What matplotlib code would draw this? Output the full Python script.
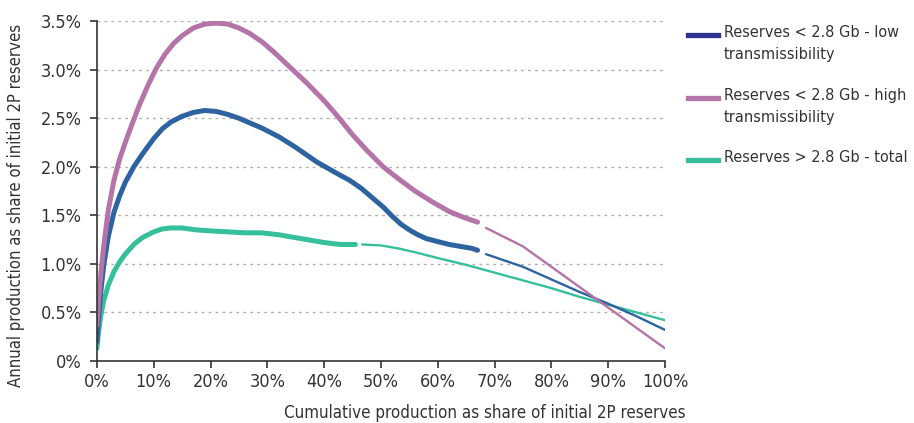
import matplotlib.pyplot as plt
import matplotlib.ticker as mticker
from matplotlib.lines import Line2D

plt.rcParams['font.family'] = ['DejaVu Sans']
plt.rcParams['font.stretch'] = 'condensed'

# low transmissibility (blue), thick part then thin part
low_x = [0, 0.3, 0.7, 1.2, 2, 3, 4, 5, 6.5, 8, 10, 11.5, 13, 15, 17, 19, 21, 23, 25, 27, 29, 32, 35, 38.7, 42, 44.5, 46.5, 48.5, 50.5, 52, 53.5, 55, 56.5, 58, 60, 62, 64, 66, 67]
low_y = [0.2, 0.45, 0.72, 0.98, 1.28, 1.53, 1.7, 1.84, 2.0, 2.13, 2.29, 2.39, 2.46, 2.52, 2.56, 2.58, 2.57, 2.54, 2.5, 2.45, 2.4, 2.31, 2.2, 2.05, 1.94, 1.86, 1.78, 1.68, 1.58, 1.49, 1.41, 1.35, 1.3, 1.26, 1.23, 1.2, 1.18, 1.16, 1.14]
low_x2 = [68.5, 75, 80, 85, 90, 95, 100]
low_y2 = [1.1, 0.97, 0.84, 0.71, 0.59, 0.46, 0.32]

# high transmissibility (pink)
high_x = [0, 0.3, 0.7, 1.2, 2, 3, 4, 5, 6, 7.5, 9, 10.5, 12, 13.5, 15, 17, 19, 21, 23, 25, 27, 29, 31, 33, 35, 37, 38.5, 40, 41.5, 42.8, 45, 47.5, 50.4, 53, 56, 59, 62, 64.5, 67]
high_y = [0.37, 0.62, 0.9, 1.18, 1.55, 1.86, 2.08, 2.25, 2.41, 2.64, 2.84, 3.02, 3.16, 3.27, 3.35, 3.43, 3.47, 3.48, 3.47, 3.43, 3.37, 3.29, 3.19, 3.08, 2.97, 2.86, 2.77, 2.68, 2.58, 2.49, 2.33, 2.17, 2.0, 1.88, 1.75, 1.64, 1.54, 1.48, 1.43]
high_x2 = [68.5, 75, 80, 85, 90, 95, 100]
high_y2 = [1.37, 1.18, 0.97, 0.76, 0.55, 0.34, 0.13]

# total > 2.8 Gb (teal)
tot_x = [0, 0.3, 0.7, 1.2, 2, 3, 4, 5, 6.5, 8, 10, 11.5, 13, 15, 17.5, 20, 23, 26, 29, 32, 35, 38, 40, 42.8, 45.5]
tot_y = [0.13, 0.3, 0.47, 0.62, 0.78, 0.92, 1.02, 1.1, 1.2, 1.27, 1.33, 1.36, 1.37, 1.37, 1.35, 1.34, 1.33, 1.32, 1.32, 1.3, 1.27, 1.24, 1.22, 1.2, 1.2]
tot_x2 = [46.7, 50, 53, 56, 60, 65, 70, 75, 80, 85, 90, 95, 100]
tot_y2 = [1.2, 1.19, 1.16, 1.12, 1.06, 0.99, 0.91, 0.83, 0.75, 0.66, 0.58, 0.5, 0.42]

c_low = '#2d64a0'
c_high = '#b474a8'
c_tot = '#35bf9b'
c_low_leg = '#2e3490'
c_text = '#333333'

fig = plt.figure(figsize=(9.14, 4.23), dpi=100)
ax = fig.add_axes([0.106, 0.1466, 0.6216, 0.8034])

for c in range(1, 8):
    ax.axhline(c * 0.5, color='#b0b0b0', lw=1, ls=(0, (2, 3)), zorder=0)

kw = dict(solid_capstyle='round', solid_joinstyle='round')
ax.plot(tot_x, tot_y, color=c_tot, lw=3.6, **kw)
ax.plot(tot_x2, tot_y2, color=c_tot, lw=1.7, **kw)
ax.plot(low_x, low_y, color=c_low, lw=3.6, **kw)
ax.plot(low_x2, low_y2, color=c_low, lw=1.7, **kw)
ax.plot(high_x, high_y, color=c_high, lw=3.6, **kw)
ax.plot(high_x2, high_y2, color=c_high, lw=1.7, **kw)

ax.set_xlim(0, 100)
ax.set_ylim(0, 3.5)
ax.set_xticks(range(0, 101, 10))
ax.set_yticks([i * 0.5 for i in range(8)])
ax.xaxis.set_major_formatter(mticker.FuncFormatter(lambda v, p: f'{v:.0f}%'))
ax.yaxis.set_major_formatter(mticker.FuncFormatter(lambda v, p: '0%' if v == 0 else f'{v:.1f}%'))
ax.tick_params(axis='x', length=5, width=1.2, color=c_text, labelsize=13, labelcolor=c_text, pad=4)
ax.tick_params(axis='y', length=5, width=1.2, color=c_text, labelsize=13, labelcolor=c_text, pad=6)

for s in ['top', 'right']:
    ax.spines[s].set_visible(False)
for s in ['left', 'bottom']:
    ax.spines[s].set_color(c_text)
    ax.spines[s].set_linewidth(1.2)

ax.set_xlabel('Cumulative production as share of initial 2P reserves', fontsize=12.2, color=c_text)
ax.set_ylabel('Annual production as share of initial 2P reserves', fontsize=12, color=c_text)
ax.xaxis.set_label_coords(0.683, -0.128)
ax.yaxis.set_label_coords(-0.126, 0.459)

# legend, drawn by hand so the handle sits on the first text line
W, H = 914, 423
leg_items = [(c_low_leg, 'Reserves < 2.8 Gb - low\ntransmissibility', 35),
             (c_high, 'Reserves < 2.8 Gb - high\ntransmissibility', 98),
             (c_tot, 'Reserves > 2.8 Gb - total', 160)]
for col, lab, py in leg_items:
    fig.add_artist(Line2D([688 / W, 718 / W], [1 - py / H, 1 - py / H], color=col, lw=3.8,
                          transform=fig.transFigure))
    fig.text(724 / W, 1 - (py - 10) / H, lab, fontsize=11.6, color=c_text,
             va='top', ha='left', linespacing=1.55)

fig.savefig('out.png', dpi=100)
